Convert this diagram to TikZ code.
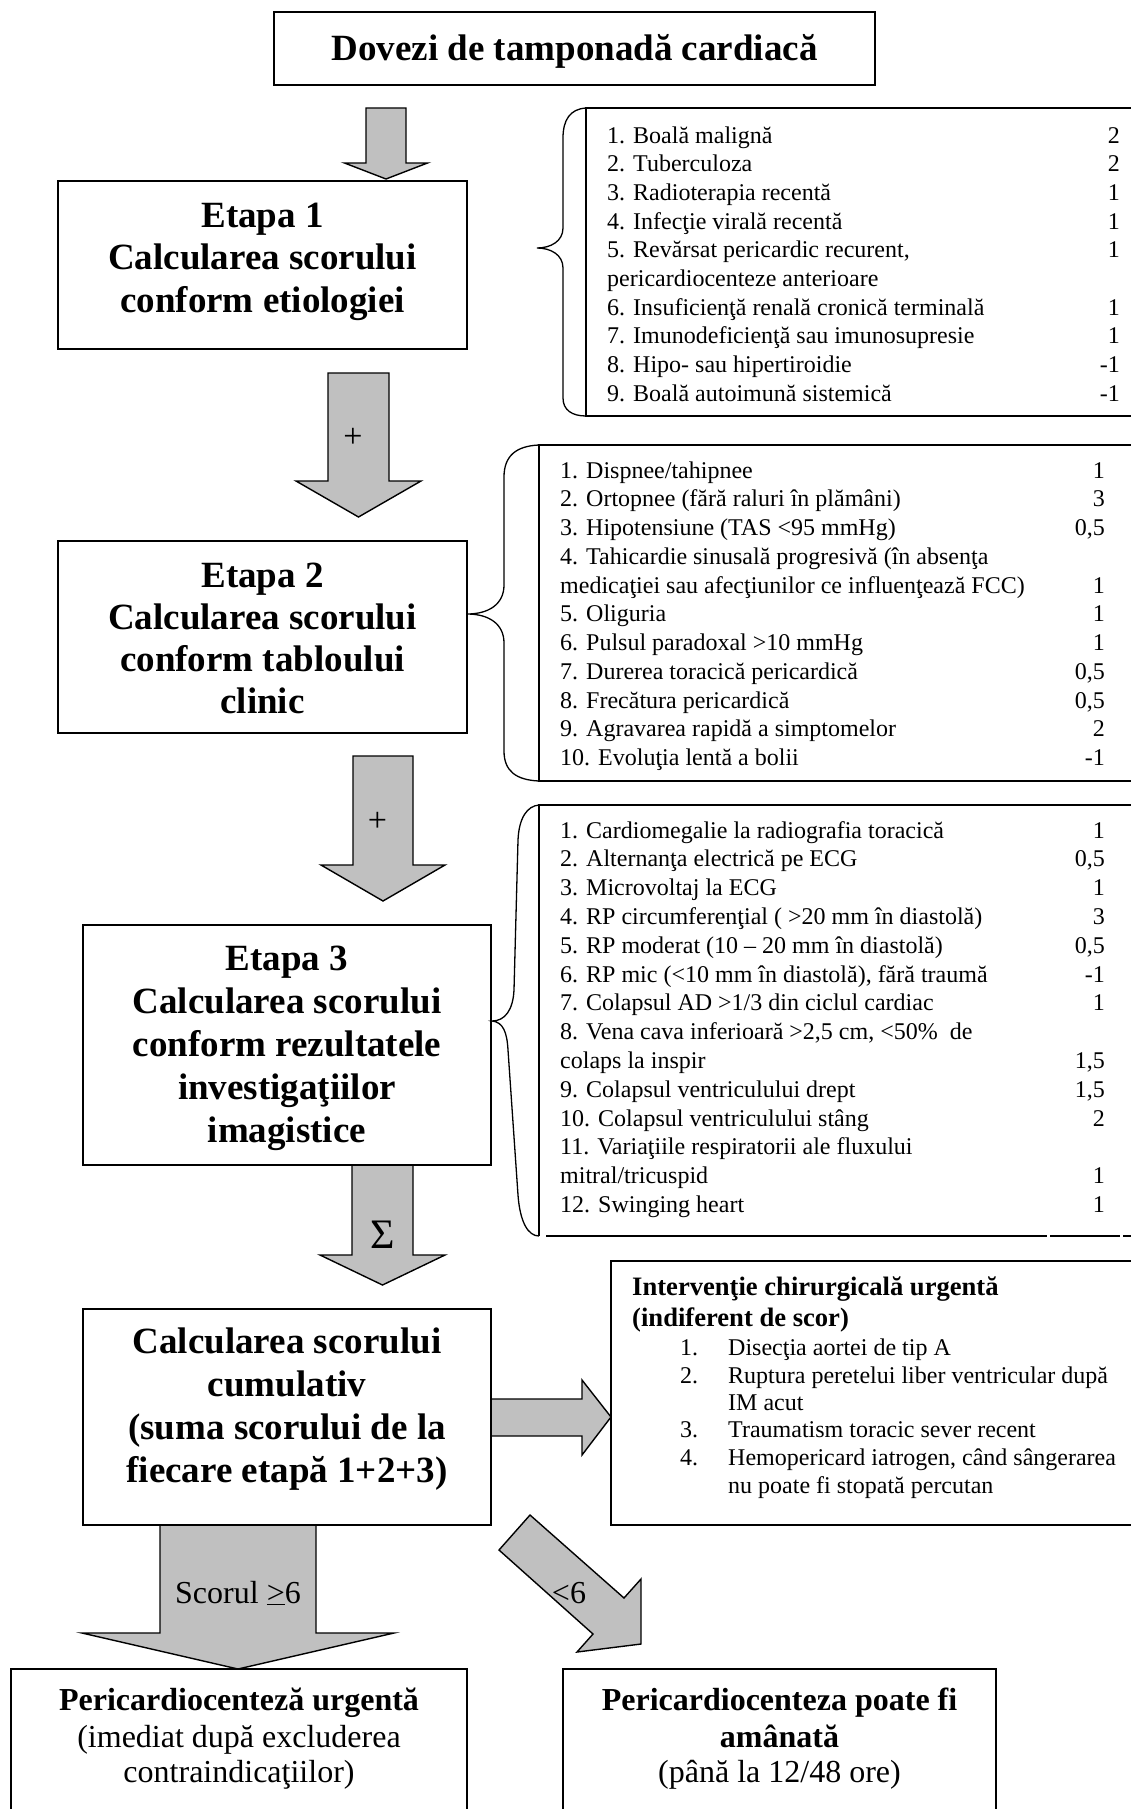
\documentclass[tikz,border=0pt]{standalone}
\usepackage{fontspec}
\setmainfont{Liberation Serif}
\definecolor{arrowgray}{RGB}{192,192,192}
\newcommand{\fs}[2]{\fontsize{#1}{#2}\selectfont}
\newcommand{\downblock}[6]{%
  \draw[blk] ({#1-#5},#2) -- ({#1+#5},#2) -- ({#1+#5},#3) -- ({#1+#6},#3) -- (#1,#4) -- ({#1-#6},#3) -- ({#1-#5},#3) -- cycle;}
\tikzset{
  box/.style={draw, line width=2pt, inner sep=0pt, outer sep=0pt},
  btitle/.style={anchor=base, inner sep=0pt, font=\fs{37}{42.5}\bfseries},
  blk/.style={draw, line width=1.4pt, fill=arrowgray, line join=miter},
  bracel/.style={draw, line width=1.3pt},
  listline/.style={draw, line width=1.7pt},
  item/.style={anchor=base west, inner sep=0pt, font=\fs{24}{28.7}},
  num/.style={anchor=base east, inner sep=0pt, font=\fs{24}{28.7}},
  ititle/.style={anchor=base west, inner sep=0pt, font=\fs{26.6}{31}\bfseries},
  bottxt/.style={anchor=base, inner sep=0pt, font=\fs{32}{36.5}},
  lbl/.style={inner sep=0pt, font=\fs{32}{36}}
}
\begin{document}
\begin{tikzpicture}[x=1pt,y=-1pt]
\useasboundingbox (0,0) rectangle (1131,1809);
\fill[white] (0,0) rectangle (1131,1809);
\clip (0,0) rectangle (1131,1809);

% ---------- block arrows ----------
\downblock{386}{108}{163}{179}{20}{41.5}
\downblock{358.5}{373}{481}{517}{30.5}{62.5}
\downblock{383}{756}{865}{901}{30}{62}
\downblock{382.5}{1165}{1255}{1285}{30.5}{62.5}
\downblock{238}{1525}{1633}{1669}{78}{156}
\draw[blk] (491,1399) -- (582,1399) -- (582,1380) -- (611,1417) -- (582,1455) -- (582,1436) -- (491,1436) -- cycle;
\draw[blk] (499,1550) -- (530,1515) -- (624,1598) -- (641,1579) -- (641,1644) -- (577,1652) -- (593,1634) -- cycle;

% ---------- main boxes ----------
\node[box, minimum width=601pt, minimum height=73pt] (top) at (574.5,48.5) {};
\node[btitle] (topt) at (574.5,61) {Dovezi de tamponadă cardiacă};

\node[box, minimum width=409pt, minimum height=168pt] (e1) at (262.5,265) {};
\foreach \t [count=\i] in {{Etapa 1},{Calcularea scorului},{conform etiologiei}}
  \node[btitle] (e1t\i) at (262.5,{227+42.5*(\i-1)}) {\t};

\node[box, minimum width=409pt, minimum height=192pt] (e2) at (262.5,637) {};
\foreach \t [count=\i] in {{Etapa 2},{Calcularea scorului},{conform tabloului},{clinic}}
  \node[btitle] (e2t\i) at (262.5,{587.5+42*(\i-1)}) {\t};

\node[box, minimum width=408pt, minimum height=240pt] (e3) at (287,1045) {};
\foreach \t [count=\i] in {{Etapa 3},{Calcularea scorului},{conform rezultatele},{investigaţiilor},{imagistice}}
  \node[btitle] (e3t\i) at (287,{970+43*(\i-1)}) {\t};

\node[box, minimum width=408pt, minimum height=216pt] (cum) at (287,1417) {};
\foreach \t [count=\i] in {{Calcularea scorului},{cumulativ},{(suma scorului de la},{fiecare etapă 1+2+3)}}
  \node[btitle] (cumt\i) at (287,{1353+43.3*(\i-1)}) {\t};

% ---------- list 1 ----------
\draw[listline] (1140,108) -- (586,108) -- (586,416) -- (1140,416);
\draw[bracel] (586,108) .. controls (570,109) and (563,120) .. (563,138) -- (563,228)
  .. controls (563,241) and (551,248) .. (537,248)
  .. controls (551,248) and (563,255) .. (563,268) -- (563,398)
  .. controls (563,410) and (572,416) .. (586,416);
\foreach \t/\n [count=\i] in {
  {1. Boală malignă}/2,
  {2. Tuberculoza}/2,
  {3. Radioterapia recentă}/1,
  {4. Infecţie virală recentă}/1,
  {5. Revărsat pericardic recurent,}/1,
  {pericardiocenteze anterioare}/{},
  {6. Insuficienţă renală cronică terminală}/1,
  {7. Imunodeficienţă sau imunosupresie}/1,
  {8. Hipo- sau hipertiroidie}/-1,
  {9. Boală autoimună sistemică}/-1}
{
  \node[item] (la\i) at (607,{143+28.7*(\i-1)}) {\t};
  \node[num] (lan\i) at (1120,{143+28.7*(\i-1)}) {\n};
}

% ---------- list 2 ----------
\draw[listline] (1140,445) -- (539,445) -- (539,781) -- (1140,781);
\draw[bracel] (539,445) .. controls (516,446) and (504,456) .. (504,477) -- (504,585)
  .. controls (504,604) and (489,614) .. (467,614)
  .. controls (489,614) and (504,624) .. (504,643) -- (504,751)
  .. controls (504,771) and (516,780) .. (539,781);
\foreach \t/\n [count=\i] in {
  {1. Dispnee/tahipnee}/1,
  {2. Ortopnee (fără raluri în plămâni)}/3,
  {3. Hipotensiune (TAS <95 mmHg)}/{0,5},
  {4. Tahicardie sinusală progresivă (în absenţa}/{},
  {medicaţiei sau afecţiunilor ce influenţează FCC)}/1,
  {5. Oliguria}/1,
  {6. Pulsul paradoxal >10 mmHg}/1,
  {7. Durerea toracică pericardică}/{0,5},
  {8. Frecătura pericardică}/{0,5},
  {9. Agravarea rapidă a simptomelor}/2,
  {10. Evoluţia lentă a bolii}/-1}
{
  \node[item] (lb\i) at (560,{478+28.75*(\i-1)}) {\t};
  \node[num] (lbn\i) at (1105,{478+28.75*(\i-1)}) {\n};
}

% ---------- list 3 ----------
\draw[listline] (1140,805) -- (539,805) -- (539,1236);
\draw[listline] (546,1236) -- (1047,1236);
\draw[listline] (1050,1236) -- (1120,1236);
\draw[listline] (1123,1236) -- (1140,1236);
\draw[bracel] (539,805) .. controls (527,806) and (519,818) .. (518,840) -- (514,990)
  .. controls (513,1010) and (505,1021) .. (492,1021)
  .. controls (503,1022) and (507,1032) .. (508,1050) -- (518,1195)
  .. controls (520,1222) and (528,1236) .. (539,1236);
\foreach \t/\n [count=\i] in {
  {1. Cardiomegalie la radiografia toracică}/1,
  {2. Alternanţa electrică pe ECG}/{0,5},
  {3. Microvoltaj la ECG}/1,
  {4. RP circumferenţial ( >20 mm în diastolă)}/3,
  {5. RP moderat (10 – 20 mm în diastolă)}/{0,5},
  {6. RP mic (<10 mm în diastolă), fără traumă}/-1,
  {7. Colapsul AD >1/3 din ciclul cardiac}/1,
  {8. Vena cava inferioară >2,5 cm, <50\%\ \ de}/{},
  {colaps la inspir}/{1,5},
  {9. Colapsul ventriculului drept}/{1,5},
  {10. Colapsul ventriculului stâng}/2,
  {11. Variaţiile respiratorii ale fluxului}/{},
  {mitral/tricuspid}/1,
  {12. Swinging heart}/1}
{
  \node[item] (lc\i) at (560,{838+28.8*(\i-1)}) {\t};
  \node[num] (lcn\i) at (1105,{838+28.8*(\i-1)}) {\n};
}

% ---------- intervention box ----------
\node[box, minimum width=529pt, minimum height=264pt] (interv) at (875.5,1393) {};
\node[ititle] (it1) at (632,1295) {Intervenţie chirurgicală urgentă};
\node[ititle] (it2) at (632,1326) {(indiferent de scor)};
\foreach \m/\t/\yy [count=\i] in {
  {1.}/{Disecţia aortei de tip A}/1355,
  {2.}/{Ruptura peretelui liber ventricular după}/1383,
  {}/{IM acut}/1410,
  {3.}/{Traumatism toracic sever recent}/1437,
  {4.}/{Hemopericard iatrogen, când sângerarea}/1465,
  {}/{nu poate fi stopată percutan}/1493}
{
  \node[item] (im\i) at (680,\yy) {\m};
  \node[item] (ix\i) at (728,\yy) {\t};
}

% ---------- bottom boxes ----------
\node[box, minimum width=456pt, minimum height=152pt] (urg) at (239,1745) {};
\node[bottxt, font=\fs{32}{36.5}\bfseries] (urg1) at (239,1710) {Pericardiocenteză urgentă};
\node[bottxt] (urg2) at (239,1747) {(imediat după excluderea};
\node[bottxt] (urg3) at (239,1782) {contraindicaţiilor)};

\node[box, minimum width=433pt, minimum height=152pt] (del) at (779.5,1745) {};
\node[bottxt, font=\fs{32}{36.5}\bfseries] (del1) at (779.5,1710) {Pericardiocenteza poate fi};
\node[bottxt, font=\fs{32}{36.5}\bfseries] (del2) at (779.5,1747) {amânată};
\node[bottxt] (del3) at (779.5,1782) {(până la 12/48 ore)};

% ---------- arrow labels ----------
\node[lbl, font=\fs{34}{40}] (plus1) at (353,438) {+};
\node[lbl, font=\fs{34}{40}] (plus2) at (377.5,822) {+};
\node[lbl, font=\fs{42}{48}] (sig) at (383,1235) {Σ};
\node[lbl, anchor=base] (scor) at (238,1603) {Scorul \underline{>}6};
\node[lbl, anchor=base] (lt6) at (569,1603) {<6};
\end{tikzpicture}
\end{document}
